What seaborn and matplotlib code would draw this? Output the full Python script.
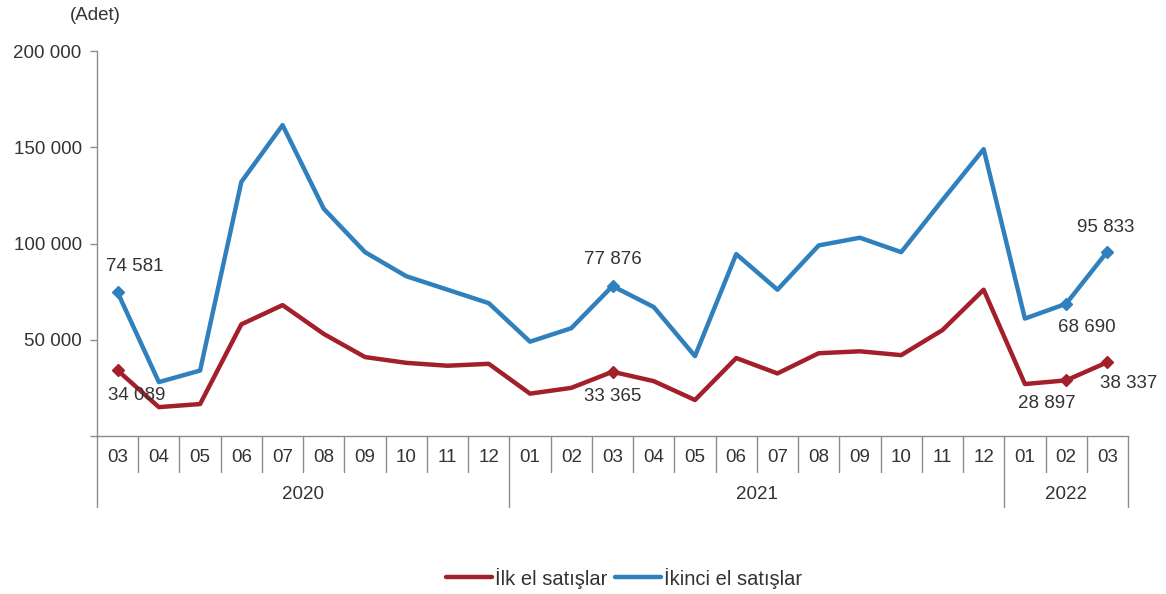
import matplotlib
matplotlib.use("Agg")
import matplotlib.pyplot as plt
import matplotlib.transforms as mtransforms
from matplotlib.lines import Line2D
import numpy as np
import pandas as pd
import seaborn as sns

# ---- data ----
months = ["03", "04", "05", "06", "07", "08", "09", "10", "11", "12",
          "01", "02", "03", "04", "05", "06", "07", "08", "09", "10", "11", "12",
          "01", "02", "03"]
years = ["2020", "2021", "2022"]
year_counts = [10, 12, 3]
ilk_el = [34089, 15000, 16600, 58000, 68000, 53000, 41000, 38000, 36500, 37500,
          22000, 25000, 33365, 28500, 18700, 40500, 32500, 43000, 44000, 42000, 55000, 76000,
          27000, 28897, 38337]
ikinci_el = [74581, 28000, 34000, 132000, 161500, 118000, 95500, 83000, 76000, 69000,
             49000, 56000, 77876, 67000, 41500, 94500, 76000, 99000, 103000, 95500, 122500, 149000,
             61000, 68690, 95833]
series_names = ["İlk el satışlar", "İkinci el satışlar"]
labeled_idx = [0, 12, 23, 24]

RED = "#A3202A"
BLUE = "#2F80BD"
TXT = "#333333"
GRID = "#8C8C8C"

sns.set_style("white")
plt.rcParams["font.family"] = ["Liberation Sans", "DejaVu Sans"]
FS = 13.5

n = len(months)
x = np.arange(n)
df = pd.DataFrame({
    "x": np.concatenate([x, x]),
    "value": ilk_el + ikinci_el,
    "series": [series_names[0]] * n + [series_names[1]] * n,
})

fig = plt.figure(figsize=(11.66, 5.94), dpi=100)
ax = fig.add_axes([97 / 1166, 1 - 436 / 594, (1128 - 97) / 1166, (436 - 51) / 594])

sns.lineplot(data=df, x="x", y="value", hue="series",
             palette={series_names[0]: RED, series_names[1]: BLUE},
             linewidth=3.2, ax=ax, legend=False)

# diamond markers on labelled points
for vals, col in [(ilk_el, RED), (ikinci_el, BLUE)]:
    ax.plot([x[i] for i in labeled_idx], [vals[i] for i in labeled_idx],
            linestyle="none", marker="D", markersize=6.5, color=col, zorder=5)

ax.set_xlim(-0.5, n - 0.5)
ax.set_ylim(0, 200000)
ax.set_xlabel("")
ax.set_ylabel("")
ax.set_xticks([])
ax.set_yticks([0, 50000, 100000, 150000, 200000])
ax.set_yticklabels(["" if v == 0 else f"{v:,}".replace(",", " ")
                    for v in [0, 50000, 100000, 150000, 200000]])
ax.tick_params(axis="y", direction="out", length=5, width=1, color=GRID,
               labelsize=FS, labelcolor=TXT, pad=6, left=True)
for s in ["top", "right"]:
    ax.spines[s].set_visible(False)
for s in ["left", "bottom"]:
    ax.spines[s].set_color(GRID)
    ax.spines[s].set_linewidth(1)

trans = mtransforms.blended_transform_factory(ax.transData, ax.transAxes)
# month labels and separators
for i, m in enumerate(months):
    ax.text(i, -0.057, m, transform=trans, ha="center", va="center",
            fontsize=FS, color=TXT)
year_bounds = [-0.5]
acc = -0.5
for c in year_counts:
    acc += c
    year_bounds.append(acc)
for b in np.arange(-0.5, n, 1.0):
    if b in year_bounds:
        continue
    ax.plot([b, b], [0, -0.0935], transform=trans, color=GRID, lw=1, clip_on=False)
for b in year_bounds:
    ax.plot([b, b], [0, -0.184], transform=trans, color=GRID, lw=1, clip_on=False)
for y, s, e in zip(years, year_bounds[:-1], year_bounds[1:]):
    ax.text((s + e) / 2, -0.153, y, transform=trans, ha="center", va="center",
            fontsize=FS, color=TXT)

def fmt(v):
    return f"{v:,}".replace(",", " ")

# data labels (offsets in points)
lab = [
    (0, ikinci_el[0], (12, 19)),
    (0, ilk_el[0], (14, -18)),
    (12, ikinci_el[12], (0, 19)),
    (12, ilk_el[12], (0, -18)),
    (24, ikinci_el[24], (-1, 17)),
    (23, ikinci_el[23], (15, -17)),
    (24, ilk_el[24], (15, -15)),
    (23, ilk_el[23], (-14, -17)),
]
for xi, v, off in lab:
    ax.annotate(fmt(v), (xi, v), xytext=off, textcoords="offset points",
                ha="center", va="center", fontsize=FS, color=TXT, zorder=6)

fig.text(95 / 1166, 1 - 16 / 594, "(Adet)", ha="center", va="center",
         fontsize=FS, color=TXT)

handles = [Line2D([], [], color=RED, lw=3.2), Line2D([], [], color=BLUE, lw=3.2)]
fig.legend(handles, series_names, loc="center", bbox_to_anchor=(624 / 1166, 1 - 578 / 594),
           ncol=2, frameon=False, fontsize=14.5, handlelength=2.3, handletextpad=0.15,
           columnspacing=0.35, labelcolor=TXT)

fig.savefig("out.png", dpi=100, facecolor="white")
